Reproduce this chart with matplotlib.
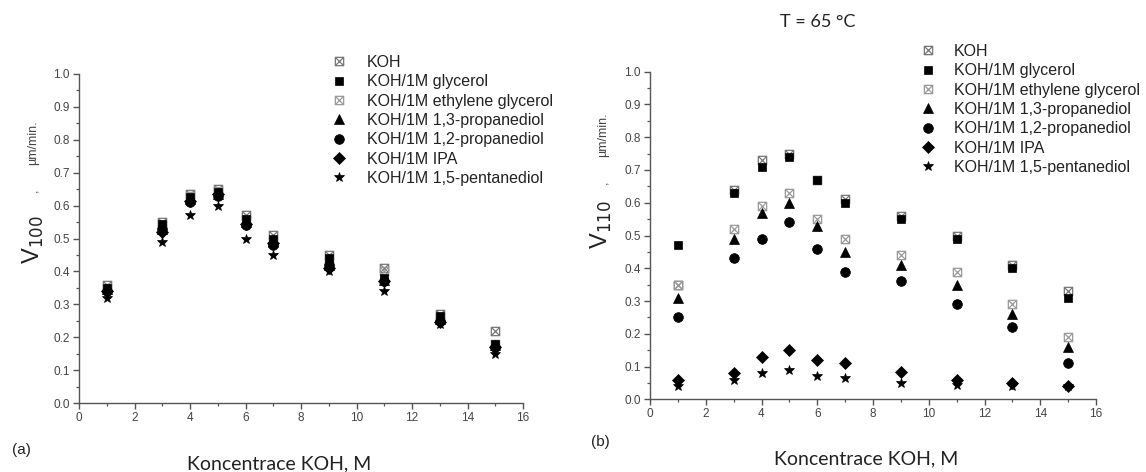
import matplotlib
matplotlib.use("Agg")
import matplotlib.pyplot as plt
from matplotlib.path import Path
from matplotlib.lines import Line2D
from matplotlib.ticker import MultipleLocator

# ---------------- data ----------------
conc = [1, 3, 4, 5, 6, 7, 9, 11, 13, 15]

series_names = ["KOH", "KOH/1M glycerol", "KOH/1M ethylene glycerol",
                "KOH/1M 1,3-propanediol", "KOH/1M 1,2-propanediol",
                "KOH/1M IPA", "KOH/1M 1,5-pentanediol"]

# panel (a): V100
a_koh      = [0.36, 0.55, 0.635, 0.65, 0.57, 0.51, 0.45, 0.41, 0.27, 0.22]
a_glycerol = [0.35, 0.545, 0.625, 0.64, 0.56, 0.50, 0.44, 0.38, 0.265, 0.18]
a_ethylene = [0.35, 0.54, 0.63, 0.645, 0.555, 0.49, 0.43, 0.40, 0.26, 0.18]
a_13prop   = [0.345, 0.53, 0.62, 0.635, 0.55, 0.49, 0.42, 0.375, 0.255, 0.175]
a_12prop   = [0.34, 0.53, 0.61, 0.63, 0.54, 0.48, 0.42, 0.37, 0.25, 0.17]
a_ipa      = [0.34, 0.52, 0.615, 0.635, 0.545, 0.485, 0.41, 0.37, 0.245, 0.17]
a_15pent   = [0.32, 0.49, 0.57, 0.60, 0.50, 0.45, 0.40, 0.34, 0.24, 0.15]

# panel (b): V110, T = 65 °C
b_koh      = [0.35, 0.64, 0.73, 0.75, 0.67, 0.61, 0.56, 0.50, 0.41, 0.33]
b_glycerol = [0.47, 0.63, 0.71, 0.74, 0.67, 0.60, 0.55, 0.49, 0.40, 0.31]
b_ethylene = [0.35, 0.52, 0.59, 0.63, 0.55, 0.49, 0.44, 0.39, 0.29, 0.19]
b_13prop   = [0.31, 0.49, 0.57, 0.60, 0.53, 0.45, 0.41, 0.35, 0.26, 0.16]
b_12prop   = [0.25, 0.43, 0.49, 0.54, 0.46, 0.39, 0.36, 0.29, 0.22, 0.11]
b_ipa      = [0.06, 0.08, 0.13, 0.15, 0.12, 0.11, 0.084, 0.06, 0.05, 0.04]
b_15pent   = [0.04, 0.06, 0.08, 0.09, 0.07, 0.065, 0.051, 0.045, 0.04, 0.04]

xticks = [0, 2, 4, 6, 8, 10, 12, 14, 16]
yticks = [0.0, 0.1, 0.2, 0.3, 0.4, 0.5, 0.6, 0.7, 0.8, 0.9, 1.0]

# ---------------- styles ----------------
crossed_sq = Path([(-1, -1), (1, -1), (1, 1), (-1, 1), (-1, -1),
                   (-1, -1), (1, 1), (-1, 1), (1, -1)],
                  [Path.MOVETO, Path.LINETO, Path.LINETO, Path.LINETO, Path.CLOSEPOLY,
                   Path.MOVETO, Path.LINETO, Path.MOVETO, Path.LINETO])

styles = [
    dict(marker=crossed_sq, ms=6.0, mfc="none", mec="#777777", mew=0.9),
    dict(marker="s", ms=6.0, mfc="black", mec="black", mew=0.5),
    dict(marker=crossed_sq, ms=6.0, mfc="none", mec="#9a9a9a", mew=0.9),
    dict(marker="^", ms=7.0, mfc="black", mec="black", mew=0.5),
    dict(marker="o", ms=7.0, mfc="black", mec="black", mew=0.5),
    dict(marker="D", ms=6.0, mfc="black", mec="black", mew=0.5),
    dict(marker="*", ms=7.5, mfc="black", mec="black", mew=0.5),
]

W, H = 1146, 472
fig = plt.figure(figsize=(W / 100, H / 100), dpi=100)
fig.patch.set_facecolor("white")

TICKFONT = "Liberation Sans"
CALIBRI = "Lato"
LEGFS = 11.5


def px_axes(x0, y0, x1, y1):
    return fig.add_axes([x0 / W, 1 - y1 / H, (x1 - x0) / W, (y1 - y0) / H])


def style_axes(ax):
    ax.set_xlim(0, 16)
    ax.set_ylim(0, 1.0)
    ax.set_xticks(xticks)
    ax.set_yticks(yticks)
    ax.set_xticklabels([str(t) for t in xticks])
    ax.set_yticklabels([f"{t:.1f}" for t in yticks])
    ax.xaxis.set_minor_locator(MultipleLocator(1))
    ax.yaxis.set_minor_locator(MultipleLocator(0.05))
    for s in ["top", "right"]:
        ax.spines[s].set_visible(False)
    for s in ["left", "bottom"]:
        ax.spines[s].set_color("#555555")
        ax.spines[s].set_linewidth(1.0)
    ax.tick_params(which="major", direction="out", length=4.5, width=1.0,
                   color="#555555", labelsize=8.5, labelcolor="#444444", pad=2)
    ax.tick_params(which="minor", direction="out", length=2.5, width=0.9,
                   color="#555555")
    for lab in ax.get_xticklabels() + ax.get_yticklabels():
        lab.set_fontfamily(TICKFONT)
    ax.set_facecolor("white")


def add_legend(x_marker, y_first, pad):
    handles = [Line2D([], [], linestyle="none", **st) for st in styles]
    fs_px = LEGFS * 100 / 72
    left = x_marker - fs_px * 0.5
    top = y_first - 6
    leg = fig.legend(handles, series_names, loc="upper left",
                     bbox_to_anchor=(left / W, 1 - top / H),
                     bbox_transform=fig.transFigure,
                     frameon=False, borderpad=0, borderaxespad=0,
                     handlelength=1.0, handletextpad=pad, labelspacing=0.27,
                     prop={"family": TICKFONT, "size": LEGFS})
    for t in leg.get_texts():
        t.set_color("#222222")
    return leg


# ---------------- panel (a) ----------------
axA = px_axes(79, 74, 523, 403)
style_axes(axA)
a_data = [a_koh, a_glycerol, a_ethylene, a_13prop, a_12prop, a_ipa, a_15pent]
draw_order = [0, 2, 1, 3, 4, 5, 6]
for i in draw_order:
    axA.plot(conc, a_data[i], linestyle="none", **styles[i])
add_legend(339, 61, 1.25)

# y label for (a)
fig.text(33 / W, 1 - 240 / H, r"V$_{100}$", rotation=90, ha="center", va="center",
         fontsize=17, fontfamily=TICKFONT, color="#222222")
fig.text(34 / W, 1 - 190 / H, ",", rotation=90, ha="center", va="center",
         fontsize=9, fontfamily=TICKFONT, color="#444444")
fig.text(33 / W, 1 - 143 / H, "µm/min.", rotation=90, ha="center", va="center",
         fontsize=9, fontfamily=TICKFONT, color="#444444")
fig.text(279 / W, 1 - 464 / H, "Koncentrace KOH, M", ha="center", va="center",
         fontsize=14, fontfamily=CALIBRI, color="#222222")
fig.text(21 / W, 1 - 450 / H, "(a)", ha="center", va="center",
         fontsize=11, fontfamily=TICKFONT, color="#222222")

# ---------------- panel (b) ----------------
axB = px_axes(650, 71.7, 1096, 399.3)
style_axes(axB)
b_data = [b_koh, b_glycerol, b_ethylene, b_13prop, b_12prop, b_ipa, b_15pent]
for i in draw_order:
    axB.plot(conc, b_data[i], linestyle="none", **styles[i])
add_legend(928, 50, 1.1)

fig.text(601 / W, 1 - 225 / H, r"V$_{110}$", rotation=90, ha="center", va="center",
         fontsize=17, fontfamily=TICKFONT, color="#222222")
fig.text(604 / W, 1 - 182 / H, ",", rotation=90, ha="center", va="center",
         fontsize=9, fontfamily=TICKFONT, color="#444444")
fig.text(603 / W, 1 - 135 / H, "µm/min.", rotation=90, ha="center", va="center",
         fontsize=9, fontfamily=TICKFONT, color="#444444")
fig.text(866 / W, 1 - 459 / H, "Koncentrace KOH, M", ha="center", va="center",
         fontsize=14, fontfamily=CALIBRI, color="#222222")
fig.text(600 / W, 1 - 442 / H, "(b)", ha="center", va="center",
         fontsize=11, fontfamily=TICKFONT, color="#222222")
fig.text(818 / W, 1 - 22 / H, "T = 65 °C", ha="center", va="center",
         fontsize=13, fontfamily=CALIBRI, color="#222222")

fig.savefig("out.png", dpi=100, facecolor="white")
